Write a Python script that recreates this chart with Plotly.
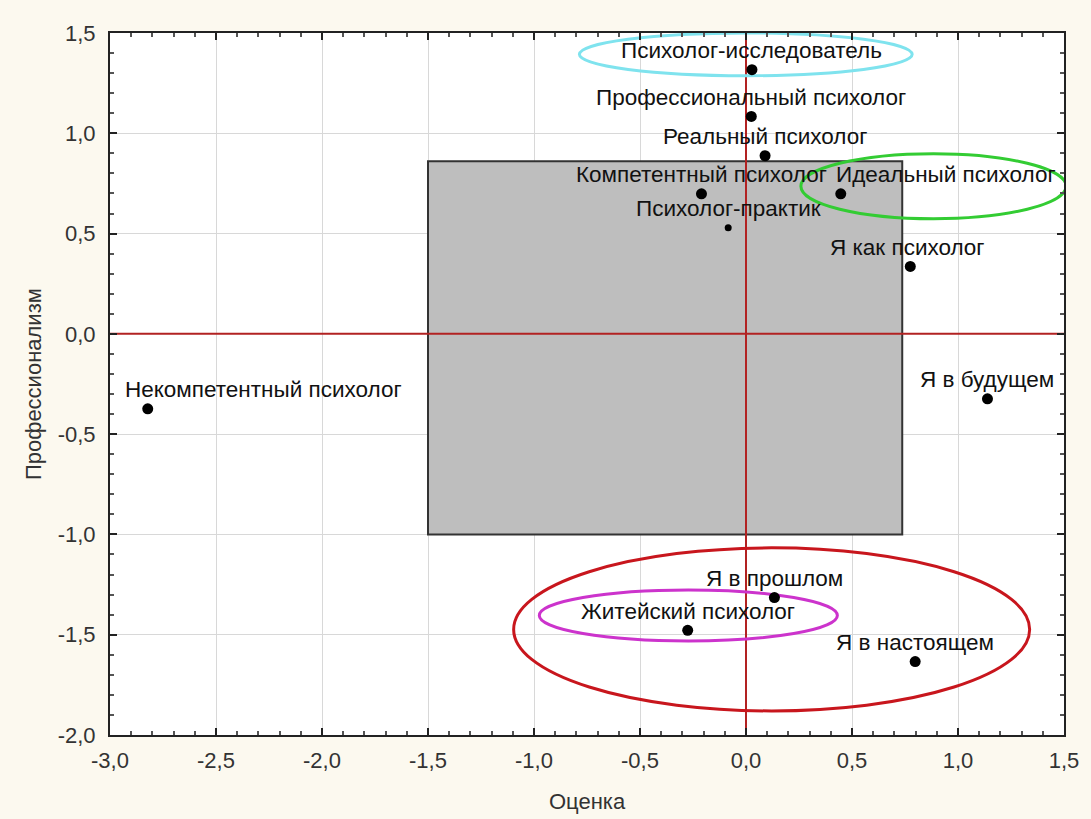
import plotly.graph_objects as go

# ---- data ----
labels = [
    "Психолог-исследователь",
    "Профессиональный психолог",
    "Реальный психолог",
    "Компетентный психолог",
    "Идеальный психолог",
    "Психолог-практик",
    "Я как психолог",
    "Некомпетентный психолог",
    "Я в будущем",
    "Я в прошлом",
    "Житейский психолог",
    "Я в настоящем",
]
ocenka = [0.028, 0.025, 0.09, -0.21, 0.447, -0.084, 0.775, -2.822, 1.139, 0.134, -0.275, 0.798]
profess = [1.317, 1.084, 0.888, 0.698, 0.698, 0.529, 0.336, -0.374, -0.324, -1.315, -1.478, -1.634]

x_ticks = [-3.0, -2.5, -2.0, -1.5, -1.0, -0.5, 0.0, 0.5, 1.0, 1.5]
x_tick_text = ["-3,0", "-2,5", "-2,0", "-1,5", "-1,0", "-0,5", "0,0", "0,5", "1,0", "1,5"]
y_ticks = [-2.0, -1.5, -1.0, -0.5, 0.0, 0.5, 1.0, 1.5]
y_tick_text = ["-2,0", "-1,5", "-1,0", "-0,5", "0,0", "0,5", "1,0", "1,5"]

# grey zone [x0, x1, y0, y1]
zone = [-1.5, 0.737, -1.0, 0.86]

# ellipses: (x0, x1, y0, y1, colour)
ellipses = [
    (-0.786, 0.784, 1.287, 1.50, "#7fe3ee"),
    (0.259, 1.51, 0.574, 0.898, "#33cc33"),
    (-1.096, 1.338, -1.880, -1.067, "#c8161d"),
    (-0.975, 0.431, -1.531, -1.277, "#cc33cc"),
]

# label offsets in pixels (style)
label_dx = [0, 0, 0, 0, 105, 0, -3, 116, 0, 0, 0, 0]
marker_sizes = [11, 11, 11, 11, 11, 7, 11, 11, 11, 11, 11, 11]

FONT = "Liberation Sans, Arial, sans-serif"
XR = [-3.0, 1.5]
YR = [-2.0, 1.5]

fig = go.Figure()

fig.add_trace(go.Scatter(
    x=ocenka, y=profess, mode="markers",
    marker=dict(color="black", size=marker_sizes, line=dict(width=0), opacity=1),
    hoverinfo="skip", showlegend=False,
))

shapes = []
shapes.append(dict(type="rect", xref="x", yref="y",
                   x0=zone[0], x1=zone[1], y0=zone[2], y1=zone[3],
                   fillcolor="#bebebe", line=dict(color="#333333", width=2),
                   layer="between"))
shapes.append(dict(type="line", xref="x", yref="y", x0=0, x1=0, y0=YR[0], y1=YR[1],
                   line=dict(color="#b22222", width=2), layer="between"))
shapes.append(dict(type="line", xref="x", yref="y", x0=XR[0], x1=XR[1], y0=0, y1=0,
                   line=dict(color="#b22222", width=2), layer="between"))
for (ex0, ex1, ey0, ey1, col) in ellipses:
    shapes.append(dict(type="circle", xref="x", yref="y",
                       x0=ex0, x1=ex1, y0=ey0, y1=ey1,
                       line=dict(color=col, width=3), layer="between"))

annotations = []
for lab, xv, yv, dx in zip(labels, ocenka, profess, label_dx):
    annotations.append(dict(x=xv, y=yv, xref="x", yref="y", text=lab,
                            showarrow=False, xanchor="center", yanchor="middle",
                            xshift=dx, yshift=19,
                            font=dict(family=FONT, size=22.5, color="#111111")))

annotations.append(dict(x=0.5, y=0, xref="paper", yref="paper", text="Оценка",
                        showarrow=False, xanchor="center", yanchor="middle", yshift=-66,
                        font=dict(family=FONT, size=22, color="#333333")))
annotations.append(dict(x=0, y=0.5, xref="paper", yref="paper", text="Профессионализм",
                        showarrow=False, xanchor="center", yanchor="middle", xshift=-77,
                        textangle=-90,
                        font=dict(family=FONT, size=22, color="#333333")))

axis_common = dict(
    showgrid=True, gridcolor="#d8d8d8", gridwidth=1,
    zeroline=False, showline=True, linecolor="#222222", linewidth=2,
    mirror="allticks", ticks="inside", ticklen=7, tickcolor="#222222", tickwidth=1.5,
    tickfont=dict(family=FONT, size=22, color="#333333"),
    minor=dict(dtick=0.1, ticks="inside", ticklen=4, tickcolor="#555555", showgrid=False),
)

fig.update_layout(
    width=1091, height=819,
    margin=dict(l=110, r=17, t=33, b=84),
    paper_bgcolor="#fcf9ef", plot_bgcolor="white",
    shapes=shapes, annotations=annotations,
    xaxis=dict(range=XR, tickvals=x_ticks, ticktext=x_tick_text,
               ticklabelstandoff=5, **axis_common),
    yaxis=dict(range=YR, tickvals=y_ticks, ticktext=y_tick_text,
               ticklabelstandoff=8, **axis_common),
    font=dict(family=FONT),
)

fig.write_html("out.html", config={"displayModeBar": False},
               post_script="document.body.style.margin='0';")
